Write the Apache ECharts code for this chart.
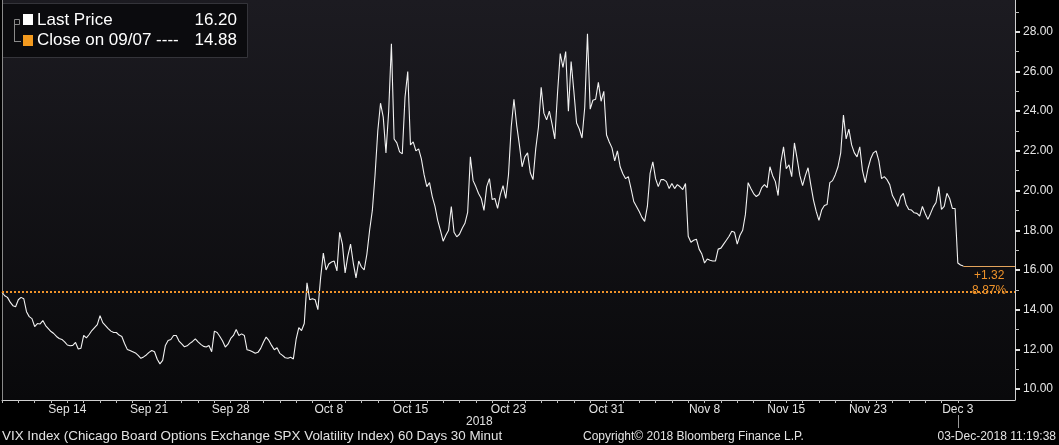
<!DOCTYPE html>
<html>
<head>
<meta charset="utf-8">
<script src="https://cdn.jsdelivr.net/npm/echarts@6/dist/echarts.min.js"></script>
<style>
html,body{margin:0;padding:0;background:#000;}
#c{width:1059px;height:445px;}
</style>
</head>
<body>
<div id="c"></div>
<script>
// ---- data ----
const tradingDays = ['Sep 10','Sep 11','Sep 12','Sep 13','Sep 14','Sep 17','Sep 18','Sep 19','Sep 20','Sep 21',
  'Sep 24','Sep 25','Sep 26','Sep 27','Sep 28','Oct 1','Oct 2','Oct 3','Oct 4','Oct 5',
  'Oct 8','Oct 9','Oct 10','Oct 11','Oct 12','Oct 15','Oct 16','Oct 17','Oct 18','Oct 19',
  'Oct 22','Oct 23','Oct 24','Oct 25','Oct 26','Oct 29','Oct 30','Oct 31','Nov 1','Nov 2',
  'Nov 5','Nov 6','Nov 7','Nov 8','Nov 9','Nov 12','Nov 13','Nov 14','Nov 15','Nov 16',
  'Nov 19','Nov 20','Nov 21','Nov 23','Nov 26','Nov 27','Nov 28','Nov 29','Nov 30','Dec 3'];
const shortDays = {'Nov 23': 3, 'Dec 3': 3};
const pointsPerDay = 6;
const labelDays = ['Sep 14','Sep 21','Sep 28','Oct 8','Oct 15','Oct 23','Oct 31','Nov 8','Nov 15','Nov 23','Dec 3'];
const currentDay = 'Dec 3';
const emptySlotsAfter = 19;
const yearLabel = '2018';
const yLabels = [10,12,14,16,18,20,22,24,26,28];
const yMinorTicks = [11,13,15,17,19,21,23,25,27,29];

const vix = [
  14.88,14.70,14.62,14.38,14.20,14.15,   // Sep 10
  14.50,14.62,14.55,13.90,13.65,13.55,   // Sep 11
  13.15,13.30,13.28,13.45,13.20,13.05,   // Sep 12
  12.90,12.80,12.65,12.55,12.50,12.38,   // Sep 13
  12.22,12.18,12.20,12.35,12.02,12.06,   // Sep 14
  12.70,12.58,12.75,12.95,13.10,13.25,   // Sep 17
  13.70,13.35,13.20,13.05,12.92,12.85,   // Sep 18
  12.85,12.72,12.65,12.30,12.00,11.94,   // Sep 19
  11.88,11.82,11.70,11.55,11.62,11.72,   // Sep 20
  11.85,11.94,11.88,11.50,11.27,11.45,   // Sep 21
  12.20,12.45,12.50,12.70,12.70,12.42,   // Sep 24
  12.28,12.13,12.18,12.30,12.40,12.53,   // Sep 25
  12.38,12.25,12.15,12.12,12.20,11.88,   // Sep 26
  12.92,12.85,12.65,12.42,12.12,12.26,   // Sep 27
  12.55,12.70,13.00,12.70,12.78,12.70,   // Sep 28
  11.98,11.94,11.88,11.80,11.85,12.05,   // Oct 1
  12.36,12.62,12.45,12.20,11.98,12.08,   // Oct 2
  11.80,11.70,11.58,11.55,11.60,11.52,   // Oct 3
  12.50,13.10,12.95,13.30,15.35,14.50,   // Oct 4
  14.55,14.50,14.00,15.60,16.85,16.00,   // Oct 5
  16.30,16.40,16.45,15.95,17.90,17.30,   // Oct 8
  15.85,16.70,17.30,16.35,15.60,16.45,   // Oct 9
  16.15,16.00,16.80,18.00,19.00,20.80,   // Oct 10
  23.00,24.40,23.70,21.90,24.00,27.40,   // Oct 11
  22.60,22.40,21.95,21.85,24.70,26.00,   // Oct 12
  22.30,22.45,22.00,22.10,21.60,20.80,   // Oct 15
  20.20,20.40,19.70,19.20,18.50,18.00,   // Oct 16
  17.45,17.75,18.00,19.20,17.90,17.67,   // Oct 17
  17.80,18.10,18.35,18.90,21.70,20.50,   // Oct 18
  20.20,19.85,19.60,19.00,20.20,20.60,   // Oct 19
  19.55,19.60,19.10,19.80,20.25,19.60,   // Oct 22
  20.80,23.20,24.60,23.30,22.30,21.20,   // Oct 23
  21.70,21.90,20.90,20.55,22.10,23.20,   // Oct 24
  25.20,23.90,23.56,24.00,23.35,22.60,   // Oct 25
  24.90,26.90,26.20,27.00,24.00,26.50,   // Oct 26
  25.00,23.40,23.10,22.65,24.20,27.90,   // Oct 29
  24.10,24.55,24.60,25.45,24.50,25.00,   // Oct 30
  22.80,22.45,22.15,21.50,22.00,21.20,   // Oct 31
  20.85,20.60,20.70,20.10,19.45,19.20,   // Nov 1
  18.95,18.65,18.45,19.20,20.87,21.45,   // Nov 2
  20.60,20.20,20.55,20.55,20.45,20.10,   // Nov 5
  20.36,20.10,20.30,20.19,20.05,20.36,   // Nov 6
  17.70,17.40,17.50,17.55,17.05,16.80,   // Nov 7
  16.35,16.55,16.49,16.45,16.45,17.05,   // Nov 8
  17.10,17.30,17.50,17.70,17.95,17.90,   // Nov 9
  17.30,17.75,18.00,18.80,20.40,20.10,   // Nov 12
  19.85,19.70,19.80,20.15,20.30,20.15,   // Nov 13
  21.20,20.75,20.45,19.75,21.40,22.20,   // Nov 14
  21.10,21.30,20.70,22.40,21.60,20.75,   // Nov 15
  20.25,20.75,21.15,20.30,19.52,18.95,   // Nov 16
  18.50,19.02,19.25,19.30,20.40,20.50,   // Nov 19
  20.80,21.20,21.90,23.80,22.60,23.10,   // Nov 20
  22.30,21.90,21.70,22.20,21.00,20.40,   // Nov 21
  21.10,21.60,21.90,                     // Nov 23 (half day)
  22.00,21.50,20.60,20.70,20.55,20.30,   // Nov 26
  19.75,19.50,19.20,19.70,19.86,19.30,   // Nov 27
  19.05,19.02,18.88,18.85,18.72,19.20,   // Nov 28
  18.85,18.55,18.85,19.18,19.40,20.20,   // Nov 29
  19.05,19.20,19.86,19.60,19.10,19.10,   // Nov 30
  16.35,16.25,16.20                      // Dec 3
];
const lastPrice = 16.20;
const closeRef = 14.88;
const closeRefDate = '09/07';

// ---- build categories ----
const cats = [];
tradingDays.forEach(d => {
  const n = shortDays[d] || pointsPerDay;
  for (let j = 0; j < n; j++) cats.push(d + '|' + j);
});
for (let k = 0; k < emptySlotsAfter; k++) cats.push('|pad' + k);
const lastIdx = vix.length - 1;

const diff = lastPrice - closeRef;
const pct = diff / closeRef * 100;
const orange = '#ef932a';
const font = 'Liberation Sans, Arial, sans-serif';
const txt = '#e2e2e2';

const chart = echarts.init(document.getElementById('c'));
const yMin = 9.45, yMax = 29.6;
chart.setOption({
  backgroundColor: '#000',
  animation: false,
  grid: {
    left: 2, right: 44, top: 0, bottom: 45, show: true, borderWidth: 0,
    backgroundColor: {type: 'linear', x: 0, y: 0, x2: 0, y2: 1,
      colorStops: [{offset: 0, color: '#1c1b21'}, {offset: 1, color: '#09090b'}]}
  },
  xAxis: {
    type: 'category', data: cats, boundaryGap: false,
    axisLine: {lineStyle: {color: '#cfcfcf', width: 1}},
    axisTick: {interval: (i, v) => /\|0$/.test(v), length: 3, lineStyle: {color: '#bdbdbd'}},
    axisLabel: {
      interval: (i, v) => /\|0$/.test(v) && labelDays.indexOf(v.split('|')[0]) >= 0,
      formatter: v => v.split('|')[0],
      color: txt, fontSize: 12, fontFamily: font, margin: 4
    },
    splitLine: {show: false}
  },
  yAxis: [
    {
      type: 'value', position: 'right', min: yMin, max: yMax,
      axisLine: {show: true, lineStyle: {color: '#cfcfcf'}},
      axisTick: {show: true, customValues: yLabels, length: 5, lineStyle: {color: '#e0e0e0', width: 2}},
      axisLabel: {customValues: yLabels, formatter: v => v.toFixed(2), color: '#e6e6e6',
        fontSize: 12, fontFamily: font, margin: 8},
      splitLine: {show: false}
    },
    {
      type: 'value', position: 'right', min: yMin, max: yMax,
      axisLine: {show: false},
      axisTick: {show: true, customValues: yMinorTicks, length: 4, lineStyle: {color: '#bdbdbd', width: 1}},
      axisLabel: {show: false}, splitLine: {show: false}
    },
    {
      type: 'value', position: 'left', min: yMin, max: yMax,
      axisLine: {show: true, lineStyle: {color: '#8a8a8a'}},
      axisTick: {show: false}, axisLabel: {show: false}, splitLine: {show: false}
    }
  ],
  series: [{
    type: 'line', data: vix, showSymbol: false, symbol: 'none',
    lineStyle: {color: '#f2f2f2', width: 1.1},
    markLine: {
      silent: true, symbol: 'none', animation: false,
      data: [
        {yAxis: closeRef, lineStyle: {color: orange, type: [2, 2], width: 2}, label: {show: false}},
        [
          {coord: [cats[lastIdx], lastPrice], lineStyle: {color: '#e3a45c', type: 'solid', width: 1},
           label: {show: true, position: 'insideMiddleBottom', distance: 2,
             formatter: '+' + diff.toFixed(2) + '\n' + pct.toFixed(2) + '%',
             color: orange, fontSize: 12, fontFamily: font, lineHeight: 15}},
          {coord: [cats[cats.length - 1], lastPrice]}
        ]
      ]
    }
  }],
  graphic: [
    {type: 'rect', left: 2, top: 3, shape: {width: 245, height: 54},
      style: {fill: '#0b0b0e', stroke: '#34343a', lineWidth: 1}},
    {type: 'rect', left: 12, top: 17, shape: {width: 5, height: 5}, style: {fill: 'none', stroke: '#8a8a8a', lineWidth: 1}},
    {type: 'line', shape: {x1: 14.5, y1: 23, x2: 14.5, y2: 42}, style: {stroke: '#8a8a8a', lineWidth: 1}},
    {type: 'line', shape: {x1: 14.5, y1: 41.5, x2: 21, y2: 41.5}, style: {stroke: '#8a8a8a', lineWidth: 1}},
    {type: 'rect', left: 23, top: 14, shape: {width: 10, height: 11}, style: {fill: '#ffffff'}},
    {type: 'rect', left: 23, top: 35, shape: {width: 10, height: 11}, style: {fill: '#f39a1f'}},
    {type: 'text', left: 37, top: 12, style: {text: 'Last Price', fill: '#fff', font: '17px ' + font}},
    {type: 'text', right: 1059 - 237, top: 12, style: {text: lastPrice.toFixed(2), fill: '#fff', font: '17px ' + font}},
    {type: 'text', left: 37, top: 32, style: {text: 'Close on ' + closeRefDate + ' ----', fill: '#fff', font: '17px ' + font}},
    {type: 'text', right: 1059 - 237, top: 32, style: {text: closeRef.toFixed(2), fill: '#fff', font: '17px ' + font}},
    {type: 'text', left: 466, top: 416, style: {text: yearLabel, fill: txt, font: '12px ' + font}},
    {type: 'text', left: 2, top: 430, style: {text: 'VIX Index (Chicago Board Options Exchange SPX Volatility Index) 60 Days 30 Minut', fill: txt, font: '13.4px ' + font}},
    {type: 'text', left: 583, top: 431, style: {text: 'Copyright\u00a9 2018 Bloomberg Finance L.P.', fill: txt, font: '12px ' + font}},
    {type: 'text', right: 3, top: 431, style: {text: '03-Dec-2018 11:19:38', fill: txt, font: '12px ' + font}}
  ]
});
// current-day marker below the axis, placed from the axis scale
const cx = chart.convertToPixel({xAxisIndex: 0}, cats[tradingDays.length ? cats.indexOf(currentDay + '|0') : 0]);
chart.setOption({graphic: [{type: 'line', id: 'nowMark', shape: {x1: Math.round(cx) + 0.5, y1: 415, x2: Math.round(cx) + 0.5, y2: 428},
  style: {stroke: '#9a9a9a', lineWidth: 1}}]});
</script>
</body>
</html>
